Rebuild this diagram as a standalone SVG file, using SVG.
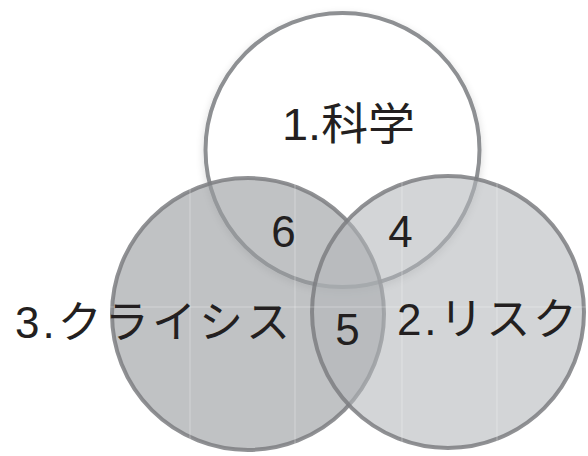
<svg xmlns="http://www.w3.org/2000/svg" width="588" height="456" viewBox="0 0 588 456">
<defs>
<style>
.lbl{font-family:"Liberation Sans","Noto Sans CJK JP",Arial,sans-serif;fill:#231f20;font-size:44px}
.num{font-family:"Liberation Sans","Noto Sans CJK JP",Arial,sans-serif;fill:#231f20;font-size:44px;text-anchor:middle}
.grid{stroke:#ffffff;stroke-width:1;opacity:0.3}
</style>
<filter id="sh" x="-20%" y="-20%" width="140%" height="140%">
<feGaussianBlur in="SourceAlpha" stdDeviation="4"/>
<feOffset dy="3"/>
<feComponentTransfer><feFuncA type="linear" slope="0.15"/></feComponentTransfer>
<feMerge><feMergeNode/><feMergeNode in="SourceGraphic"/></feMerge>
</filter>
</defs>
<rect width="588" height="456" fill="#ffffff"/>
<g id="node-1">
<circle cx="342.5" cy="150" r="137" fill="#ffffff" stroke="#8e9093" stroke-width="4" filter="url(#sh)"/>
</g>
<g id="node-3">
<circle cx="248" cy="314" r="136" fill="#9a9da0" fill-opacity="0.62" stroke="#7c7e81" stroke-opacity="0.85" stroke-width="4"/>
</g>
<g id="node-2">
<circle cx="448" cy="312" r="136" fill="#b4b7ba" fill-opacity="0.58" stroke="#7c7e81" stroke-opacity="0.85" stroke-width="4"/>
</g>
<g id="grid">
<line class="grid" x1="190" y1="170" x2="190" y2="456"/>
<line class="grid" x1="295" y1="170" x2="295" y2="456"/>
<line class="grid" x1="402" y1="170" x2="402" y2="456"/>
<line class="grid" x1="497" y1="170" x2="497" y2="456"/>
<line class="grid" x1="100" y1="307" x2="588" y2="307"/>
</g>
<g id="labels">
<text class="lbl" x="282" y="140" font-size="46" textLength="133" lengthAdjust="spacingAndGlyphs">1.科学</text>
<text class="lbl" x="15" y="338" textLength="275" lengthAdjust="spacing">3.クライシス</text>
<text class="lbl" x="397" y="335" textLength="180" lengthAdjust="spacing">2.リスク</text>
<text class="num" x="283.5" y="247">6</text>
<text class="num" x="400.5" y="247">4</text>
<text class="num" x="347.5" y="345">5</text>
</g>
</svg>
